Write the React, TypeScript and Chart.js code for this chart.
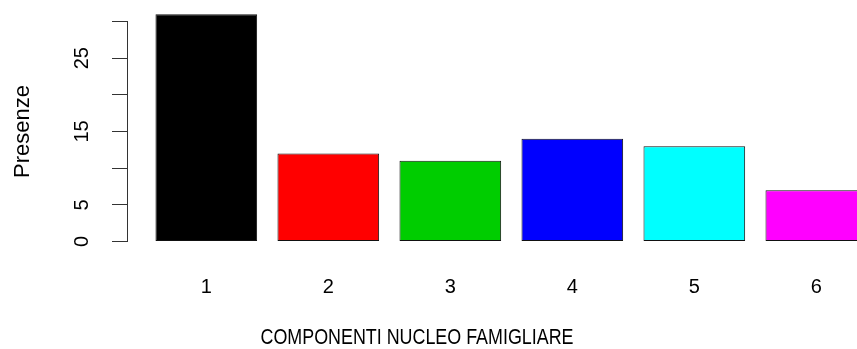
import { useEffect, useRef } from 'react';
import { Chart, registerables } from 'chart.js';

Chart.register(...registerables);

// Household size categories and how many times each occurs
const CATEGORIES = ['1', '2', '3', '4', '5', '6'];
const PRESENZE = [31, 12, 11, 14, 13, 7];

// Y ticks every 5; only these ones carry a label
const Y_TICK_LABELS = ['0', '5', '15', '25'];

const X_TITLE = 'COMPONENTI NUCLEO FAMIGLIARE';
const Y_TITLE = 'Presenze';

// Classic base-graphics palette, one colour per bar
const BAR_COLORS = ['#000000', '#FF0000', '#00CD00', '#0000FF', '#00FFFF', '#FF00FF'];

// barplot geometry: unit-wide bars with a 0.2 gap before each one
const BAR_WIDTH = 1;
const BAR_SPACE = 0.2;
const barCenter = (i: number) =>
  BAR_SPACE + i * (BAR_WIDTH + BAR_SPACE) + BAR_WIDTH / 2;

const SANS = "'Liberation Sans', Arial, Helvetica, sans-serif";

// Draws the horizontal axis caption, condensed to a fixed width
const xCaptionPlugin = {
  id: 'xCaption',
  afterDraw(chart: any, _args: any, opts: any) {
    const { ctx } = chart;
    ctx.save();
    ctx.font = `${opts.size}px ${SANS}`;
    ctx.fillStyle = opts.color;
    ctx.textAlign = 'center';
    ctx.textBaseline = 'middle';
    ctx.fillText(opts.text, opts.x, opts.y, opts.maxWidth);
    ctx.restore();
  },
};

export default function App() {
  const canvasRef = useRef<HTMLCanvasElement>(null);

  useEffect(() => {
    const chart = new Chart(canvasRef.current as HTMLCanvasElement, {
      type: 'bar',
      data: {
        datasets: [
          {
            data: PRESENZE.map((v, i) => ({ x: barCenter(i), y: v })),
            backgroundColor: BAR_COLORS,
            borderColor: '#111111',
            borderWidth: 1,
            borderSkipped: false,
            categoryPercentage: 1,
            barPercentage: BAR_WIDTH / (BAR_WIDTH + BAR_SPACE),
            clip: false,
          } as any,
        ],
      },
      options: {
        responsive: false,
        animation: false,
        events: [],
        layout: { padding: { top: 21.5, left: 0, right: 0, bottom: 0 } },
        plugins: {
          legend: { display: false },
          tooltip: { enabled: false },
          xCaption: {
            text: X_TITLE,
            x: 417,
            y: 338,
            size: 22,
            maxWidth: 313,
            color: '#000000',
          },
        } as any,
        scales: {
          x: {
            type: 'linear',
            offset: false,
            min: -0.08,
            max: 7.1,
            grid: { display: false, drawTicks: false },
            border: { display: false },
            afterBuildTicks: (scale: any) => {
              scale.ticks = CATEGORIES.map((_, i) => ({ value: barCenter(i) }));
            },
            afterFit: (scale: any) => {
              scale.height = 107.5;
              scale.paddingLeft = 0;
              scale.paddingRight = 0;
            },
            ticks: {
              autoSkip: false,
              maxRotation: 0,
              minRotation: 0,
              padding: 34,
              color: '#000000',
              font: { family: SANS, size: 20 },
              callback: (_v: any, i: number) => CATEGORIES[i],
            },
          },
          y: {
            type: 'linear',
            min: 0,
            max: 30,
            afterFit: (scale: any) => {
              scale.width = 127;
              scale.paddingTop = 0;
              scale.paddingBottom = 0;
            },
            grid: {
              drawOnChartArea: false,
              drawTicks: true,
              tickLength: 15,
              color: '#333333',
              lineWidth: 1,
            },
            border: { display: true, color: '#333333', width: 1 },
            ticks: {
              stepSize: 5,
              minRotation: 90,
              maxRotation: 90,
              crossAlign: 'center',
              padding: 18,
              color: '#000000',
              font: { family: SANS, size: 20 },
              callback: (v: any) =>
                Y_TICK_LABELS.includes(String(v)) ? String(v) : '',
            },
            title: {
              display: true,
              text: Y_TITLE,
              color: '#000000',
              font: { family: SANS, size: 22 },
              padding: { top: 10, bottom: 0 },
            },
          },
        },
      },
      plugins: [xCaptionPlugin],
    });
    return () => chart.destroy();
  }, []);

  return (
    <div
      style={{
        position: 'fixed',
        left: 0,
        top: 0,
        width: 857,
        height: 349,
        overflow: 'hidden',
        background: '#ffffff',
      }}
    >
      <canvas ref={canvasRef} width={857} height={349} style={{ display: 'block' }} />
    </div>
  );
}
